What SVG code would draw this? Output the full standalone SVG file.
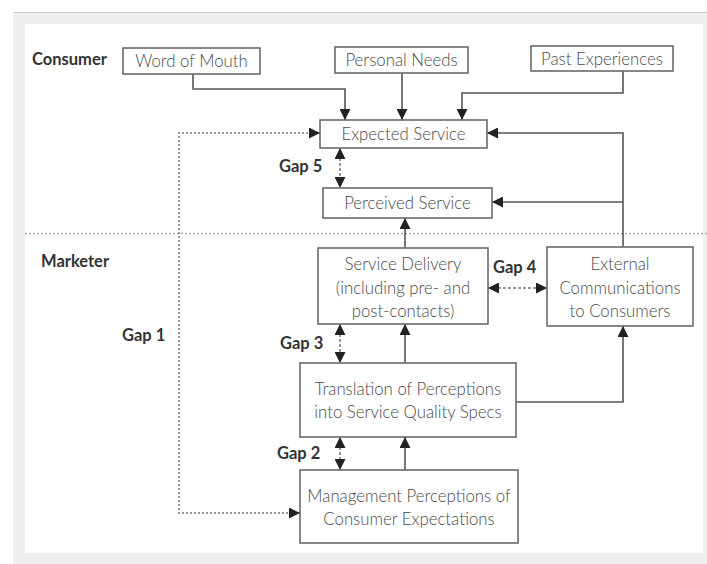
<svg xmlns="http://www.w3.org/2000/svg" width="707" height="564" viewBox="0 0 707 564">
  <style>
    .box { fill: #ffffff; stroke: #6a6a6a; stroke-width: 1.6; }
    .txt { font-family: Lato, "Open Sans", "Liberation Sans", sans-serif; font-weight: 300; font-size: 16.8px; fill: #4a4a4a; text-anchor: middle; }
    .lbl { font-family: Lato, "Liberation Sans", sans-serif; font-weight: 700; font-size: 16.5px; fill: #333333; }
    .wire { fill: none; stroke: #555555; stroke-width: 1.6; }
    .dash { fill: none; stroke: #777777; stroke-width: 1.5; stroke-dasharray: 3 2; }
    .dot { fill: none; stroke: #9a9a9a; stroke-width: 2; stroke-dasharray: 2 2; }
  </style>
  <defs>
    <marker id="ah" viewBox="0 0 10 10" refX="10" refY="5" markerWidth="11" markerHeight="11" markerUnits="userSpaceOnUse" orient="auto-start-reverse">
      <path d="M0,0 L10,5 L0,10 z" fill="#222222"/>
    </marker>
  </defs>

  <!-- page frame -->
  <rect x="0" y="0" width="707" height="564" fill="#ffffff"/>
  <rect x="13" y="12" width="694" height="552" fill="#efefef"/>
  <line x1="13" y1="12.5" x2="707" y2="12.5" stroke="#c8c8c8" stroke-width="1"/>
  <rect x="25" y="24" width="678" height="529" fill="#ffffff"/>

  <!-- consumer / marketer divider -->
  <line x1="25" y1="233.5" x2="707" y2="233.5" stroke="#a8a8a8" stroke-width="1.5" stroke-dasharray="2 2"/>

  <text class="lbl" x="32" y="65">Consumer</text>
  <text class="lbl" x="41" y="267">Marketer</text>

  <g id="connectors">
    <!-- inputs to expected service -->
    <path class="wire" d="M193,74 V89 H345 V120" marker-end="url(#ah)"/>
    <path class="wire" d="M402,73 V120" marker-end="url(#ah)"/>
    <path class="wire" d="M623,71 V93 H462 V120" marker-end="url(#ah)"/>
    <!-- external communications feedback -->
    <path class="wire" d="M623,247 V133 H487" marker-end="url(#ah)"/>
    <path class="wire" d="M623,202 H492" marker-end="url(#ah)"/>
    <!-- marketer chain -->
    <path class="wire" d="M405,248 V218" marker-end="url(#ah)"/>
    <path class="wire" d="M405,363 V324" marker-end="url(#ah)"/>
    <path class="wire" d="M405,470 V437" marker-end="url(#ah)"/>
    <path class="wire" d="M516,402 H623 V326" marker-end="url(#ah)"/>
    <!-- gap 1 -->
    <path class="dot" d="M320,133 H179 V513 H300"/>
    <path class="wire" d="M310,133 H320" marker-end="url(#ah)" stroke="none"/>
    <path class="wire" d="M290,513 H300" marker-end="url(#ah)" stroke="none"/>
    <!-- gap 5, 3, 2, 4 -->
    <path class="dash" d="M340,148 V188" marker-start="url(#ah)" marker-end="url(#ah)"/>
    <path class="dash" d="M340,324 V363" marker-start="url(#ah)" marker-end="url(#ah)"/>
    <path class="dash" d="M340,437 V470" marker-start="url(#ah)" marker-end="url(#ah)"/>
    <path class="dash" d="M488,288 H547" marker-start="url(#ah)" marker-end="url(#ah)"/>
  </g>

  <text class="lbl" x="279" y="172">Gap 5</text>
  <text class="lbl" x="122" y="341">Gap 1</text>
  <text class="lbl" x="280" y="349">Gap 3</text>
  <text class="lbl" x="277" y="459">Gap 2</text>
  <text class="lbl" x="493" y="273">Gap 4</text>

  <g id="word-of-mouth">
    <rect class="box" x="123" y="48" width="137" height="26"/>
    <text class="txt" x="191.5" y="67">Word of Mouth</text>
  </g>
  <g id="personal-needs">
    <rect class="box" x="335" y="47" width="133" height="26"/>
    <text class="txt" x="401.5" y="66">Personal Needs</text>
  </g>
  <g id="past-experiences">
    <rect class="box" x="531" y="46" width="142" height="25"/>
    <text class="txt" x="602" y="64.5">Past Experiences</text>
  </g>
  <g id="expected-service">
    <rect class="box" x="320" y="120" width="167" height="28"/>
    <text class="txt" x="403.5" y="140">Expected Service</text>
  </g>
  <g id="perceived-service">
    <rect class="box" x="323" y="188" width="169" height="30"/>
    <text class="txt" x="407.5" y="209">Perceived Service</text>
  </g>
  <g id="service-delivery">
    <rect class="box" x="318" y="248" width="170" height="76"/>
    <text class="txt" x="403" y="270">Service Delivery</text>
    <text class="txt" x="403" y="294">(including pre- and</text>
    <text class="txt" x="403" y="317">post-contacts)</text>
  </g>
  <g id="external-communications">
    <rect class="box" x="547" y="247" width="146" height="79"/>
    <text class="txt" x="620" y="270">External</text>
    <text class="txt" x="620" y="294">Communications</text>
    <text class="txt" x="620" y="317">to Consumers</text>
  </g>
  <g id="translation">
    <rect class="box" x="300" y="363" width="216" height="74"/>
    <text class="txt" x="408" y="395">Translation of Perceptions</text>
    <text class="txt" x="408" y="418">into Service Quality Specs</text>
  </g>
  <g id="management-perceptions">
    <rect class="box" x="300" y="470" width="218" height="73"/>
    <text class="txt" x="409" y="502">Management Perceptions of</text>
    <text class="txt" x="409" y="525">Consumer Expectations</text>
  </g>
</svg>
